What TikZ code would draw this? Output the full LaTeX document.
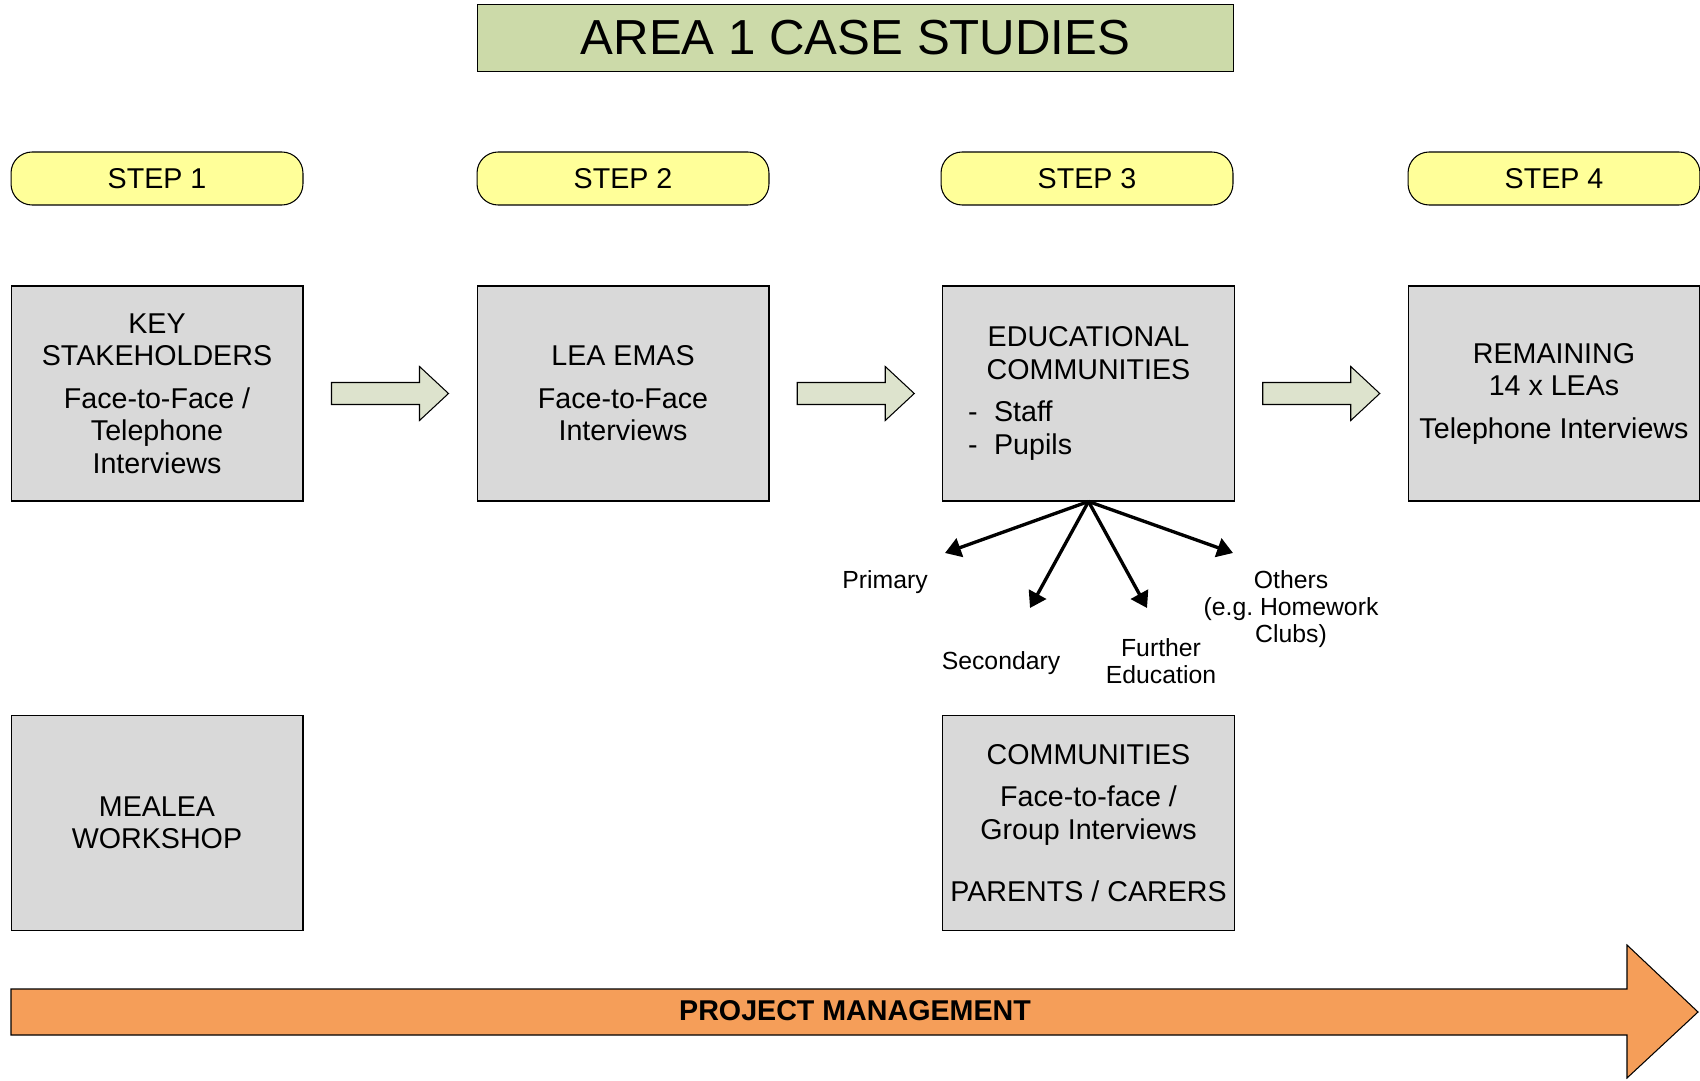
\documentclass[tikz,border=0pt]{standalone}
\usepackage{fontspec}
\setmainfont{Liberation Sans}
\usetikzlibrary{positioning,calc,arrows.meta}
\definecolor{titlegreen}{RGB}{204,218,169}
\definecolor{pillyellow}{RGB}{255,255,153}
\definecolor{boxgrey}{RGB}{217,217,217}
\definecolor{arrowgreen}{RGB}{221,227,205}
\definecolor{pmorange}{RGB}{245,158,89}
\frenchspacing
\begin{document}
\begin{tikzpicture}[x=0.02cm,y=-0.02cm,
	pill/.style={draw,line width=0.6pt,fill=pillyellow,rounded corners=12pt,
		minimum width=5.84cm,minimum height=1.06cm,font=\fontsize{16.3}{18.5}\selectfont},
	grey/.style={draw,line width=0.6pt,fill=boxgrey,minimum width=5.84cm,minimum height=4.3cm,
		align=center,inner sep=0pt,font=\fontsize{16.3}{18.5}\selectfont},
	lbl/.style={align=center,font=\fontsize{14.1}{15.4}\selectfont},
	fan/.style={line width=1.9pt,-{Triangle[length=9pt,width=11pt]}},
	blk/.style={draw,line width=0.6pt,fill=arrowgreen}]
\useasboundingbox (0,0) rectangle (1700,1081);
% title
\node [draw, line width=0.6pt, fill=titlegreen, minimum width=15.14cm, minimum height=1.34cm,
	font=\fontsize{28}{30}\selectfont] (t) at (855.5,38) {AREA 1 CASE STUDIES};
% steps
\node [pill] (s1) at (157,178.5) {STEP 1};
\node [pill] (s2) at (623,178.5) {STEP 2};
\node [pill] (s3) at (1087,178.5) {STEP 3};
\node [pill] (s4) at (1554,178.5) {STEP 4};
% boxes
\node [grey] (b1) at (157,393.5) {KEY\\STAKEHOLDERS\\[5.7pt]Face-to-Face /\\Telephone\\Interviews};
\node [grey] (b2) at (623,393.5) {LEA EMAS\\[5.7pt]Face-to-Face\\Interviews};
\node [grey] (b3) at (1088.5,393.5) {EDUCATIONAL\\COMMUNITIES\\[5.7pt]%
	\makebox[137pt][l]{\makebox[14.8pt][l]{-}Staff}\\\makebox[137pt][l]{\makebox[14.8pt][l]{-}Pupils}};
\node [grey] (b4) at (1554,393.5) {REMAINING\\14 x LEAs\\[5.7pt]Telephone Interviews};
\node [grey] (m) at (157,823) {MEALEA\\WORKSHOP};
\node [grey] (c) at (1088.5,823) {COMMUNITIES\\[5.7pt]Face-to-face /\\Group Interviews\\[17pt]PARENTS / CARERS};
% block arrows
\foreach \a/\b in {b1/b2,b2/b3,b3/b4}
	\draw [blk] ($(\a.east)!0.5!(\b.west)$) ++(-58.5,-11) -- ++(88,0) -- ++(0,-16) -- ++(29,27)
		-- ++(-29,27) -- ++(0,-16) -- ++(-88,0) -- cycle;
% fan
\coordinate (p1) at (945,553);
\coordinate (p2) at (1030,608);
\coordinate (p3) at (1147,608);
\coordinate (p4) at (1233,553);
\foreach \p in {p1,p2,p3,p4}
	\draw [fan] (b3.south) -- (\p);
\node [lbl] (l1) at (885,582) {Primary};
\node [lbl] (l2) at (1001,663) {Secondary};
\node [lbl] (l3) at (1161,661) {Further\\Education};
\node [lbl] (l4) at (1291,609) {Others\\(e.g. Homework\\Clubs)};
% project management
\draw [line width=0.6pt, fill=pmorange] (11,989) -- (1627,989) -- (1627,945) -- (1698,1012)
	-- (1627,1078) -- (1627,1035) -- (11,1035) -- cycle;
\node [font=\bfseries\fontsize{16.3}{18}\selectfont] (pm) at (855,1011) {PROJECT MANAGEMENT};
\end{tikzpicture}
\end{document}
